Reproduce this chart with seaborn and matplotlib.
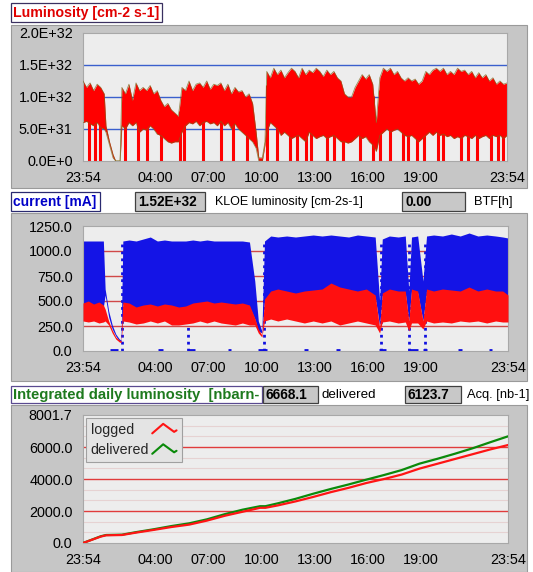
import numpy as np
import pandas as pd
import matplotlib
matplotlib.use("Agg")
import matplotlib.pyplot as plt
import seaborn as sns
from matplotlib.patches import Rectangle
from matplotlib.lines import Line2D
from matplotlib.legend_handler import HandlerBase

# ---------------- data (hours since 23:54) ----------------
lum_t = [0.0, 0.2, 0.4, 0.6, 0.8, 1.0, 1.2, 1.3, 1.5, 1.7, 1.85, 2.1,
         2.2, 2.4, 2.6, 2.8, 3.0, 3.2, 3.4, 3.6, 3.8, 4.0,
         4.2, 4.4, 4.6, 4.8, 5.0, 5.2, 5.4,
         5.6, 5.8, 6.0, 6.2, 6.4, 6.6, 6.8, 7.0, 7.2, 7.4, 7.6, 7.8, 8.0, 8.2, 8.4, 8.6, 8.8, 9.0, 9.2, 9.4, 9.6, 9.8,
         9.95, 10.15, 10.3,
         10.4, 10.6, 10.8, 11.0, 11.2, 11.4, 11.6, 11.8, 12.0, 12.2, 12.4, 12.6, 12.8, 13.0, 13.2, 13.4, 13.6, 13.8,
         14.0, 14.2, 14.4, 14.6, 14.8, 15.0, 15.2, 15.4, 15.6, 15.8, 16.0, 16.2, 16.4, 16.6, 16.8, 17.0, 17.2, 17.4,
         17.6, 17.8, 18.0, 18.2, 18.4, 18.6, 18.8, 19.0, 19.2, 19.4, 19.6, 19.8, 20.0, 20.2, 20.4, 20.6, 20.8, 21.0,
         21.2, 21.4, 21.6, 21.8, 22.0, 22.2, 22.4, 22.6, 22.8, 23.0, 23.2, 23.4, 23.6, 23.8, 24.0]
lum_hi = [1.25, 1.15, 1.22, 1.10, 1.20, 1.15, 1.05, 0.55, 0.30, 0.10, 0.00, 0.00,
          1.15, 1.05, 1.20, 0.95, 1.22, 1.10, 1.15, 1.10, 1.18, 1.05,
          1.10, 0.95, 0.85, 0.90, 0.80, 0.75, 0.70,
          1.15, 1.10, 1.25, 1.10, 1.20, 1.22, 1.15, 1.25, 1.12, 1.20, 1.18, 1.22, 1.10, 1.20, 1.05, 1.15, 1.08, 1.10, 1.00, 1.05, 0.90, 0.45,
          0.05, 0.05, 0.30,
          1.40, 1.30, 1.45, 1.35, 1.42, 1.30, 1.38, 1.45, 1.40, 1.30, 1.45, 1.35, 1.42, 1.38, 1.45, 1.40, 1.32, 1.42,
          1.35, 1.40, 1.30, 1.25, 1.05, 1.00, 1.00, 1.15, 1.25, 1.35, 1.28, 1.35, 1.20, 0.60, 1.30, 1.45, 1.40, 1.45,
          1.35, 1.40, 1.30, 1.25, 1.30, 1.25, 1.28, 1.20, 1.25, 1.40, 1.35, 1.42, 1.45, 1.40, 1.45, 1.35, 1.40, 1.35,
          1.45, 1.40, 1.42, 1.35, 1.40, 1.30, 1.38, 1.30, 1.35, 1.25, 1.30, 1.20, 1.25, 1.20, 1.22]
lum_lo = [0.60, 0.62, 0.58, 0.55, 0.60, 0.52, 0.50, 0.45, 0.25, 0.05, 0.00, 0.00,
          0.55, 0.50, 0.60, 0.55, 0.60, 0.45, 0.50, 0.48, 0.55, 0.50,
          0.42, 0.40, 0.35, 0.30, 0.28, 0.30, 0.30,
          0.45, 0.55, 0.60, 0.58, 0.62, 0.55, 0.60, 0.62, 0.58, 0.60, 0.55, 0.62, 0.55, 0.60, 0.50, 0.58, 0.50, 0.45, 0.40, 0.35, 0.30, 0.20,
          0.00, 0.00, 0.25,
          0.45, 0.60, 0.55, 0.50, 0.40, 0.45, 0.40, 0.35, 0.38, 0.40, 0.35, 0.30, 0.45, 0.40, 0.35, 0.38, 0.40, 0.35,
          0.38, 0.40, 0.35, 0.30, 0.30, 0.28, 0.30, 0.35, 0.40, 0.35, 0.38, 0.30, 0.25, 0.15, 0.40, 0.45, 0.50, 0.45,
          0.48, 0.50, 0.45, 0.40, 0.38, 0.40, 0.35, 0.30, 0.35, 0.40, 0.45, 0.40, 0.45, 0.40, 0.42, 0.38, 0.40, 0.35,
          0.38, 0.35, 0.40, 0.38, 0.35, 0.40, 0.35, 0.38, 0.40, 0.35, 0.40, 0.38, 0.40, 0.35, 0.40]
lum_dips = [0.35, 0.68, 0.97, 2.4, 3.1, 3.6, 4.4, 5.5, 5.7, 6.8, 7.8, 8.5, 9.3,
            10.4, 11.0, 11.7, 12.1, 12.6, 12.9, 13.8, 14.2, 14.7, 15.7, 16.4, 16.8, 17.4,
            18.1, 18.4, 18.9, 19.3, 20.1, 20.4, 21.4, 21.8, 22.3, 23.1, 23.5, 23.8]

cur_t = [0.0, 0.3, 0.6, 0.9, 1.15,
         1.25, 1.45, 1.65, 1.85, 2.05, 2.15,
         2.25, 2.6,
         3.0, 3.4, 3.8, 4.2, 4.6, 5.0, 5.4, 5.8, 6.2, 6.6, 7.0, 7.4, 7.8, 8.2, 8.6, 9.0, 9.4,
         9.7, 9.9, 10.1, 10.25,
         10.6, 11.0, 11.5, 12.0, 12.5, 13.0, 13.5, 14.0, 14.5, 15.0, 15.5, 16.0, 16.5,
         16.75, 16.9, 17.3, 17.8, 18.2,
         18.4, 18.55, 18.9, 19.2, 19.4,
         19.8, 20.3, 20.8, 21.3, 21.8, 22.3, 22.8, 23.3, 23.7, 24.0]
e_hi = [1100, 1100, 1100, 1100, 1100,
        620, 400, 260, 170, 120, 110,
        1100, 1110,
        1100, 1120, 1140, 1100, 1110, 1100, 1100, 1100, 1110, 1100, 1110, 1100, 1100, 1100, 1100, 1100, 1090,
        700, 300, 200, 1100,
        1150, 1140, 1150, 1140, 1150, 1160, 1150, 1160, 1150, 1140, 1160, 1150, 1140,
        500, 1120, 1150, 1140, 1150,
        600, 1140, 1150, 700, 1150,
        1160, 1150, 1170, 1150, 1180, 1150, 1160, 1150, 1140, 1130]
e_lo = [460, 470, 450, 470, 440,
        560, 340, 220, 150, 100, 95,
        470, 460,
        420, 440, 450, 430, 450, 440, 420, 430, 460, 470, 480, 460, 470, 460, 450, 460, 440,
        320, 200, 180, 500,
        580, 600, 580, 560, 580, 590, 600, 640, 620, 600, 580, 600, 540,
        250, 560, 600, 580, 580,
        300, 600, 580, 300, 600,
        580, 600, 590, 580, 620, 580, 600, 580, 580, 540]
p_hi = [480, 500, 470, 490, 460,
        420, 300, 210, 140, 110, 100,
        490, 480,
        440, 460, 470, 450, 470, 460, 440, 450, 480, 490, 500, 480, 490, 480, 470, 480, 460,
        330, 220, 160, 520,
        600, 620, 600, 580, 600, 610, 620, 680, 640, 620, 600, 620, 560,
        230, 580, 620, 600, 600,
        300, 620, 600, 300, 620,
        600, 620, 610, 600, 640, 600, 620, 600, 600, 560]
p_lo = [300, 290, 300, 280, 290,
        300, 260, 180, 120, 90, 85,
        300, 290,
        270, 280, 300, 280, 300, 260, 260, 270, 280, 300, 280, 300, 280, 270, 260, 280, 260,
        260, 180, 140, 300,
        320, 300, 320, 300, 280, 300, 280, 300, 260, 280, 300, 280, 260,
        180, 290, 300, 280, 290,
        200, 280, 280, 220, 300,
        280, 290, 280, 300, 290, 300, 280, 300, 290, 290]
zero_start = [1.5, 4.25, 5.95, 8.2, 9.9, 12.5, 14.3, 16.7, 18.35, 19.2, 21.2, 22.95]
zero_end = [2.0, 4.5, 6.3, 8.35, 10.4, 12.7, 14.5, 17.1, 18.9, 19.4, 21.4, 23.1]
inject_t = [2.2, 5.95, 10.2, 16.8, 18.4, 19.3]

int_t = [0.0, 0.5, 1.0, 1.3, 2.2, 3.0, 4.0, 5.0, 6.0, 7.0, 8.0, 9.0, 10.0, 10.3,
         11.0, 12.0, 13.0, 14.0, 15.0, 16.0, 17.0, 18.0, 19.0, 20.0, 21.0, 22.0, 23.0, 24.0]
logged = [0, 200, 400, 480, 500, 650, 820, 1000, 1150, 1400, 1700, 1950, 2200, 2200,
          2350, 2600, 2880, 3180, 3450, 3750, 4000, 4280, 4650, 4950, 5250, 5550, 5850, 6124]
delivered = [0, 210, 420, 500, 520, 680, 860, 1060, 1230, 1480, 1800, 2080, 2300, 2300,
             2480, 2760, 3080, 3380, 3660, 3960, 4250, 4560, 4960, 5260, 5580, 5920, 6300, 6668]

tick_pos = [0.0, 1.1, 4.1, 7.1, 10.1, 13.1, 16.1, 19.1, 22.1, 24.0]
tick_lab = ['23:54', '', '04:00', '07:00', '10:00', '13:00', '16:00', '19:00', '', '23:54']
lum_yticks = [0.0, 0.5, 1.0, 1.5, 2.0]
lum_ylab = ['0.0E+0', '5.0E+31', '1.0E+32', '1.5E+32', '2.0E+32']
cur_yticks = [0, 250, 500, 750, 1000, 1250]
cur_ylab = ['0.0', '250.0', '500.0', '750.0', '1000.0', '1250.0']
int_yticks = [0, 2000, 4000, 6000, 8001.7]
int_ylab = ['0.0', '2000.0', '4000.0', '6000.0', '8001.7']

assert len(lum_t) == len(lum_hi) == len(lum_lo)
assert len(cur_t) == len(e_hi) == len(e_lo) == len(p_hi) == len(p_lo)

# ---------------- figure ----------------
W, H = 533, 572
sns.set_style('white')
plt.rcParams['font.family'] = ['Liberation Sans', 'DejaVu Sans']
fig = plt.figure(figsize=(W / 100, H / 100), dpi=100)
fig.patch.set_facecolor('white')

GREY = '#C6C6C6'
PLOTBG = '#EDEDED'


def pbox(x0, y0, x1, y1):
    return [x0 / W, 1 - y1 / H, (x1 - x0) / W, (y1 - y0) / H]


def rect(x0, y0, x1, y1, fc, ec='none', lw=0.0, z=0):
    r = Rectangle((x0 / W, 1 - y1 / H), (x1 - x0) / W, (y1 - y0) / H,
                  transform=fig.transFigure, facecolor=fc, edgecolor=ec,
                  linewidth=lw, zorder=z)
    fig.add_artist(r)


def txt(x, y, s, z=3, **kw):
    fig.text(x / W, 1 - y / H, s, va='center', ha='left', zorder=z, **kw)


# panels
rect(11, 25, 527, 188, GREY, '#9A9A9A', 0.8)
rect(11, 213, 527, 381, GREY, '#9A9A9A', 0.8)
rect(11, 405, 527, 572, GREY, '#9A9A9A', 0.8)

# label boxes
rect(11, 3, 162, 22, 'white', '#3A3060', 0.9, z=2)
txt(13, 13, 'Luminosity [cm-2 s-1]', color='#E00000', fontsize=10.2, fontweight='bold')
rect(11, 192, 100, 211, 'white', '#2A2A70', 0.9, z=2)
txt(13, 202, 'current [mA]', color='#0000C8', fontsize=10, fontweight='bold')
rect(11, 386, 262, 403, 'white', '#5A4A90', 0.9, z=2)
txt(13, 395, 'Integrated daily luminosity  [nbarn-', color='#1E7A1E', fontsize=10.7, fontweight='bold')

# value indicators
rect(135, 192, 205, 211, '#C8C8C8', '#404040', 0.9, z=5)
txt(138, 202, '1.52E+32', z=6, color='black', fontsize=9.8, fontweight='bold')
txt(215, 202, 'KLOE luminosity [cm-2s-1]', color='black', fontsize=9)
rect(402, 192, 465, 211, '#C8C8C8', '#404040', 0.9, z=5)
txt(405, 202, '0.00', z=6, color='black', fontsize=9.8, fontweight='bold')
txt(474, 202, 'BTF[h]', color='black', fontsize=9.3)
rect(263, 386, 318, 403, '#C8C8C8', '#404040', 0.9, z=5)
txt(265, 395, '6668.1', z=6, color='black', fontsize=9.8, fontweight='bold')
txt(322, 395, 'delivered', color='black', fontsize=9.6)
rect(405, 386, 461, 403, '#C8C8C8', '#404040', 0.9, z=5)
txt(407, 395, '6123.7', z=6, color='black', fontsize=9.8, fontweight='bold')
txt(467, 395, 'Acq. [nb-1]', color='black', fontsize=9.3)


def style(ax, yticks, ylab, ymax):
    ax.set_facecolor(PLOTBG)
    ax.set_xlim(0, 24)
    ax.set_ylim(0, ymax)
    ax.set_xticks(tick_pos)
    ax.set_xticklabels(tick_lab)
    ax.set_yticks(yticks)
    ax.set_yticklabels(ylab)
    ax.tick_params(axis='both', direction='out', length=5, width=1, color='#303030',
                   labelsize=10.4, labelcolor='black')
    ax.tick_params(axis='x', pad=2.0)
    ax.tick_params(axis='y', pad=2.5)
    for s in ax.spines.values():
        s.set_color('#A8A8A8')
        s.set_linewidth(0.8)
    ax.set_xlabel('')
    ax.set_ylabel('')
    ax.grid(False)


# ---------------- luminosity ----------------
ax1 = fig.add_axes(pbox(83, 33, 507, 161))
for g in [0.5, 1.0, 1.5]:
    ax1.axhline(g, color='#3A5FCD', lw=1.0, zorder=1)
lum_df = pd.DataFrame({'t': lum_t, 'hi': lum_hi, 'lo': lum_lo})
ax1.fill_between(lum_df['t'], lum_df['lo'], lum_df['hi'], color='#FF0000', lw=0, zorder=2)
dip_top = np.interp(lum_dips, lum_t, lum_hi) * 0.85
ax1.vlines(lum_dips, 0, dip_top, color='#FF0000', lw=2.2, zorder=2)
sns.lineplot(data=lum_df, x='t', y='hi', ax=ax1, color='#7A6418', lw=0.6, alpha=0.7, zorder=3, legend=False)
sns.lineplot(data=lum_df, x='t', y='lo', ax=ax1, color='#7A6418', lw=0.6, alpha=0.7, zorder=3, legend=False)
style(ax1, lum_yticks, lum_ylab, 2.0)

# ---------------- current ----------------
ax2 = fig.add_axes(pbox(83, 226, 508, 351))
for g in [250, 500, 750, 1000]:
    ax2.axhline(g, color='#D04848', lw=1.0, zorder=1)
cur_df = pd.DataFrame({'t': cur_t, 'e_hi': e_hi, 'e_lo': e_lo, 'p_hi': p_hi, 'p_lo': p_lo})
ax2.vlines(inject_t, 0, 1100, color='#1010E0', lw=2.0, linestyles=(0, (1, 1.5)), zorder=2)
ax2.fill_between(cur_df['t'], cur_df['e_lo'], cur_df['e_hi'], color='#1414E6', lw=0, zorder=2)
ax2.fill_between(cur_df['t'], cur_df['p_lo'], cur_df['p_hi'], color='#FF1010', lw=0, zorder=3)
ax2.hlines([6] * len(zero_start), zero_start, zero_end, color='#1010E0', lw=2.0, zorder=3)
style(ax2, cur_yticks, cur_ylab, 1250)

# ---------------- integrated ----------------
ax3 = fig.add_axes(pbox(83, 415, 508, 543))
for k in range(1, 12):
    v = k * 2000 / 3
    if k % 3:
        ax3.axhline(v, color='#E6D2D2', lw=0.8, zorder=1)
for g in [2000, 4000, 6000]:
    ax3.axhline(g, color='#E03C3C', lw=1.0, zorder=1)
int_df = pd.DataFrame({'t': int_t, 'logged': logged, 'delivered': delivered})
sns.lineplot(data=int_df, x='t', y='delivered', ax=ax3, color='#0A8A0A', lw=1.6, zorder=3, legend=False)
sns.lineplot(data=int_df, x='t', y='logged', ax=ax3, color='#FF1414', lw=1.6, zorder=4, legend=False)
style(ax3, int_yticks, int_ylab, 8001.7)


class Chevron(HandlerBase):
    def create_artists(self, legend, orig_handle, xdescent, ydescent, width, height,
                       fontsize, trans):
        x0, y0 = -xdescent, -ydescent
        xs = [x0, x0 + 0.45 * width, x0 + 0.9 * width, x0 + width]
        ys = [y0 + 0.05 * height, y0 + 1.0 * height, y0 + 0.2 * height, y0 + 0.35 * height]
        return [Line2D(xs, ys, color=orig_handle.get_color(), lw=1.5, transform=trans)]


handles = [Line2D([], [], color='#FF1414', lw=1.5), Line2D([], [], color='#0A8A0A', lw=1.5)]
leg = ax3.legend(handles, ['logged', 'delivered'], loc='upper left', bbox_to_anchor=(0.0, 1.0),
                 markerfirst=False, handler_map={Line2D: Chevron()}, frameon=True, fancybox=False,
                 edgecolor='#A0A0A0', facecolor='#E4E4E4', framealpha=1, fontsize=10.3,
                 handlelength=1.7, handletextpad=0.2, borderpad=0.35, labelspacing=0.45,
                 borderaxespad=0.2)
leg.get_frame().set_linewidth(0.8)

# left-align legend labels while keeping the icons in one column
fig.canvas.draw()
renderer = fig.canvas.get_renderer()
try:
    col = leg._legend_handle_box.get_children()[0]
    rows = col.get_children()
    widths = [t.get_window_extent(renderer).width for t in leg.get_texts()]
    mw = max(widths)
    for row, w in zip(rows, widths):
        row.sep += (mw - w) * 72.0 / fig.dpi
except Exception:
    pass

fig.savefig('out.png', dpi=100)
